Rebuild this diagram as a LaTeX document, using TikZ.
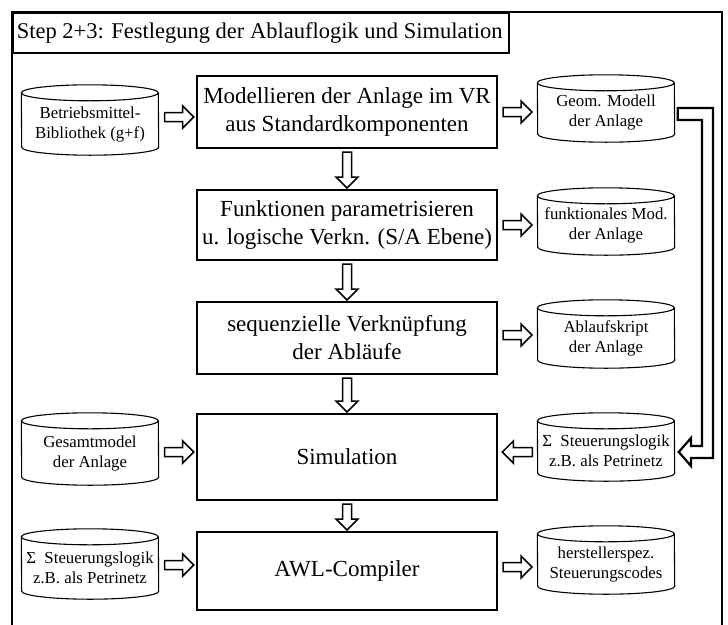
\documentclass[tikz,border=0pt]{standalone}
\usepackage{fontspec}
\setmainfont{Liberation Serif}
\usetikzlibrary{calc}
\tikzset{
  procbox/.style={draw, line width=2pt, minimum width=300pt, align=center, inner sep=0pt, font=\fontsize{23}{28}\selectfont},
  cylnode/.style={minimum width=137pt, inner sep=0pt, align=center, font=\fontsize{16.8}{20}\selectfont},
  cylline/.style={draw, line width=1.1pt},
  harrow/.style={draw, line width=1.5pt, fill=white, line join=miter},
  bigarrow/.style={draw, line width=2.2pt, fill=white, line join=miter},
}
% cylinder outline drawn 4pt above the node box, so the text sits a little low as in the reference
\newcommand\cyl[1]{%
  \draw[cylline] ([yshift=-4pt]#1.north west) arc[start angle=180,end angle=0,x radius=68.5pt,y radius=8pt]
    -- ([yshift=12pt]#1.south east) arc[start angle=0,end angle=-180,x radius=68.5pt,y radius=8pt] -- cycle
    ([yshift=-4pt]#1.north west) arc[start angle=180,end angle=360,x radius=68.5pt,y radius=8pt];}
\newcommand\hollow[3]{%
  \draw[harrow, shift={#1}, rotate=#2] (0pt,-4.5pt) -- ({#3-11pt},-4.5pt) -- ({#3-11pt},-11pt) -- (#3,0pt)
    -- ({#3-11pt},11pt) -- ({#3-11pt},4.5pt) -- (0pt,4.5pt) -- cycle;}
\begin{document}
\begin{tikzpicture}[x=1pt,y=-1pt]
\useasboundingbox (0,0) rectangle (728,624);
\fill[white] (0,0) rectangle (728,624);
\draw[line width=1.2pt] (12,12) rectangle (722,632);
\node[draw, line width=1.6pt, anchor=north west, minimum height=40pt, minimum width=496pt, inner xsep=4pt,
  font=\fontsize{22.5}{26}\selectfont] (title) at (12,12) {\makebox[488pt][l]{Step 2+3: Festlegung der Ablauflogik und Simulation}};

% process boxes
\node[procbox, minimum height=72pt] (B1) at (347,112) {Modellieren der Anlage im VR\\aus Standardkomponenten};
\node[procbox, minimum height=70pt] (B2) at (347,225) {Funktionen parametrisieren\\u. logische Verkn. (S/A Ebene)};
\node[procbox, minimum height=72pt] (B3) at (347,338) {sequenzielle Verknüpfung\\der Abläufe};
\node[procbox, minimum height=86pt] (B4) at (347,457) {Simulation};
\node[procbox, minimum height=78pt] (B5) at (347,571) {AWL-Compiler};

% left cylinders (node centres 4pt below the cylinder centres)
\node[cylnode, minimum height=70pt] (L1) at (90,124) {Betriebsmittel-\\Bibliothek (g+f)};
\node[cylnode, minimum height=72pt] (L2) at (90,453) {Gesamtmodel\\der Anlage};
\node[cylnode, minimum height=70pt] (L3) at (90,568) {Σ\ \ Steuerungslogik\\z.B. als Petrinetz};
% right cylinders
\node[cylnode, minimum height=67pt] (C1) at (606,112.5) {Geom. Modell\\der Anlage};
\node[cylnode, minimum height=67pt] (C2) at (606,225.5) {funktionales Mod.\\der Anlage};
\node[cylnode, minimum height=68pt] (C3) at (606,338) {Ablaufskript\\der Anlage};
\node[cylnode, minimum height=68pt] (C4) at (606,451) {Σ\ \ Steuerungslogik\\z.B. als Petrinetz};
\node[cylnode, minimum height=68pt] (C5) at (606,564) {herstellerspez.\\Steuerungscodes};
\foreach \c in {L1,L2,L3,C1,C2,C3,C4,C5} {\cyl{\c}}

% hollow arrows
\hollow{([xshift=6pt,yshift=7pt]L1.east)}{0}{29pt}
\hollow{([xshift=5pt]B1.east)}{0}{29pt}
\hollow{([xshift=5pt]B2.east)}{0}{29pt}
\hollow{([xshift=5pt,yshift=3pt]B3.east)}{0}{29pt}
\hollow{([xshift=-5pt,yshift=-1pt]C4.west)}{180}{30pt}
\hollow{([xshift=6pt,yshift=1pt]L2.east)}{0}{29pt}
\hollow{([xshift=5pt,yshift=4pt]B5.east)}{0}{29pt}
\hollow{([xshift=6pt,yshift=3pt]L3.east)}{0}{29pt}
\hollow{([yshift=-3pt]B1.south)}{-90}{36pt}
\hollow{([yshift=-3pt]B2.south)}{-90}{36pt}
\hollow{([yshift=-3pt]B3.south)}{-90}{34pt}
\hollow{([yshift=-3pt]B4.south)}{-90}{26pt}

% big bracket arrow from C1 to C4
\draw[bigarrow] ([xshift=3pt,yshift=4.5pt]C1.east) -- (713,108) -- (713,458) -- (691,458) -- (691,466)
  -- ([xshift=4pt,yshift=-1pt]C4.east) -- (691,438) -- (691,446) -- (702,446) -- (702,120) -- ([xshift=3pt,yshift=-7.5pt]C1.east) -- cycle;
\end{tikzpicture}
\end{document}
